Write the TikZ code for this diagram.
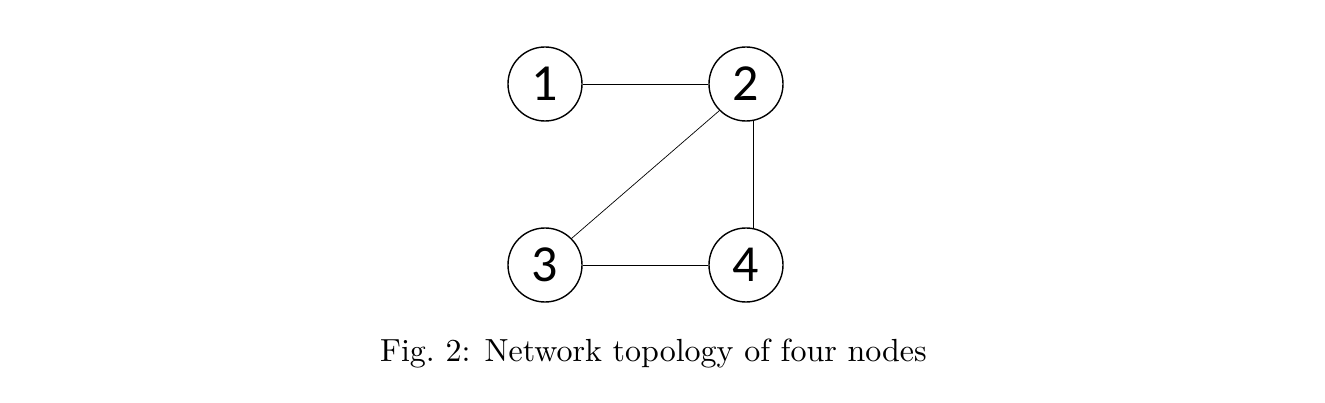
\documentclass[tikz,border=0pt]{standalone}
\usepackage{fontspec}
\newfontfamily\numfont{Carlito}
\newfontfamily\capfont{lmroman10-regular}[Extension=.otf]
\begin{document}
\begin{tikzpicture}[x=1pt,y=-1pt,
  vertex/.style={circle,draw=black,line width=1.4pt,minimum size=74pt,inner sep=0pt,font=\numfont\fontsize{52}{52}\selectfont},
  edge/.style={draw=black,line width=0.9pt}]
\useasboundingbox (0,0) rectangle (1325,403);
\node[vertex] (n1) at (545,84) {1};
\node[vertex] (n2) at (746,84) {2};
\node[vertex] (n3) at (545,265) {3};
\node[vertex] (n4) at (746,265) {4};
\draw[edge] (n1) -- (n2);
\draw[edge] (n3) -- (n4);
\draw[edge,line width=0.7pt] (n2.south west) -- (n3.north east);
\draw[edge,line width=0.7pt] (n2.-78) -- (n4.78);
\node[anchor=base,inner sep=0pt,font=\capfont\fontsize{32}{38}\selectfont] (cap) at (653.5,361) {Fig.~2: Network topology of four nodes};
\end{tikzpicture}
\end{document}
